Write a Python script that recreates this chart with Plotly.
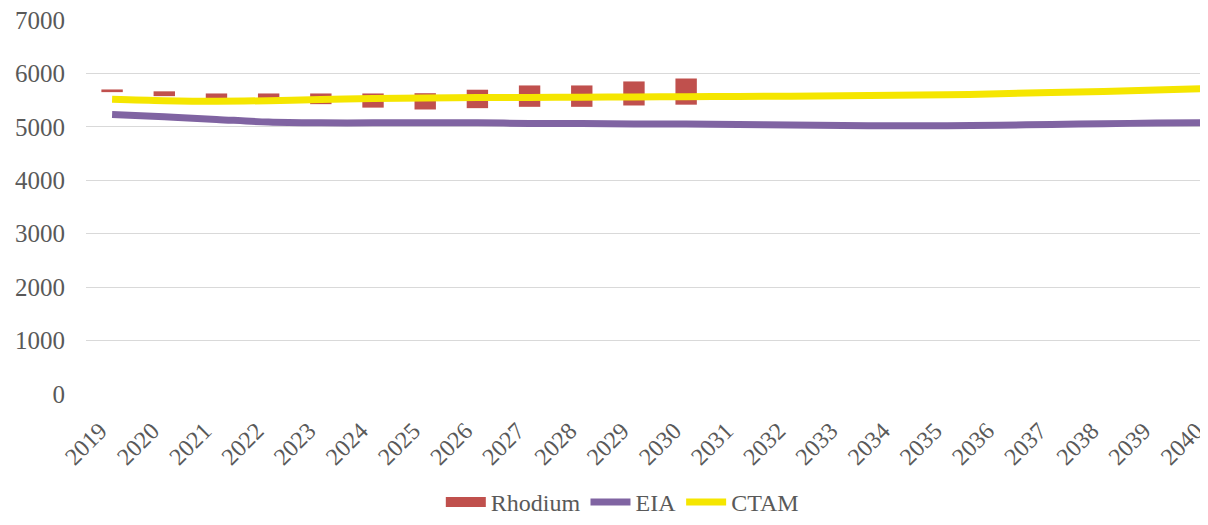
import plotly.graph_objects as go

# =====================================================
# Datos
# =====================================================
years = [str(y) for y in range(2019, 2041)]

# Rhodium: barras flotantes (rango bajo-alto), solo 2019-2030
rhodium_years = [str(y) for y in range(2019, 2031)]
rhodium_low = [5650, 5575, 5530, 5540, 5425, 5360, 5325, 5350, 5375, 5375, 5400, 5415]
rhodium_high = [5700, 5665, 5625, 5625, 5625, 5625, 5630, 5695, 5775, 5775, 5850, 5905]

eia = [5230, 5190, 5140, 5090, 5075, 5075, 5075, 5075, 5065, 5065, 5055,
       5055, 5045, 5035, 5025, 5020, 5020, 5030, 5045, 5060, 5070, 5080]
ctam = [5515, 5490, 5480, 5490, 5510, 5530, 5540, 5550, 5550, 5555, 5560,
        5565, 5570, 5575, 5580, 5590, 5600, 5620, 5645, 5660, 5690, 5720]

y_ticks = [0, 1000, 2000, 3000, 4000, 5000, 6000, 7000]

FONT = "Liberation Serif, DejaVu Serif, serif"
GREY = "#595959"
RED = "#C0504D"

fig = go.Figure()

# === Barras Rhodium ===
fig.add_trace(go.Bar(
    x=rhodium_years,
    y=[h - l for h, l in zip(rhodium_high, rhodium_low)],
    base=rhodium_low,
    name="Rhodium",
    marker=dict(color=RED, line=dict(width=0)),
    showlegend=False,
))
# muestra ancha en la leyenda (como en Excel)
fig.add_trace(go.Scatter(
    x=[None], y=[None], name="Rhodium", mode="lines",
    line=dict(color=RED, width=13),
))

# === Líneas ===
fig.add_trace(go.Scatter(
    x=years, y=eia, name="EIA", mode="lines",
    line=dict(color="#8064A2", width=7, shape="spline"),
))
fig.add_trace(go.Scatter(
    x=years, y=ctam, name="CTAM", mode="lines",
    line=dict(color="#F5E600", width=7, shape="spline"),
))

# === Estilo (el body de la página añade 8 px arriba y a la izquierda) ===
fig.update_layout(
    width=1200, height=517,
    plot_bgcolor="white", paper_bgcolor="white",
    margin=dict(l=78, r=0, t=12, b=125),
    bargap=0.59,
    font=dict(family=FONT, size=24, color=GREY),
    showlegend=True,
    legend=dict(
        orientation="h", x=0.478, xanchor="center",
        y=-0.29, yanchor="middle",
        font=dict(family=FONT, size=24, color=GREY),
        traceorder="normal",
        itemwidth=40,
    ),
    xaxis=dict(
        type="category",
        categoryorder="array", categoryarray=years,
        tickangle=-45,
        showgrid=False, showline=False, zeroline=False,
        automargin=False,
        ticklabelstandoff=17,
        ticklabelshift=-12,
        tickfont=dict(family=FONT, size=24, color=GREY),
    ),
    yaxis=dict(
        range=[0, 7000],
        tickvals=y_ticks,
        showgrid=True, gridcolor="#D9D9D9", gridwidth=1,
        zeroline=False, showline=False,
        automargin=False,
        ticklabelstandoff=20,
        ticklabeloverflow="allow",
        tickfont=dict(family=FONT, size=25, color=GREY),
    ),
)

fig.write_html("out.html")
